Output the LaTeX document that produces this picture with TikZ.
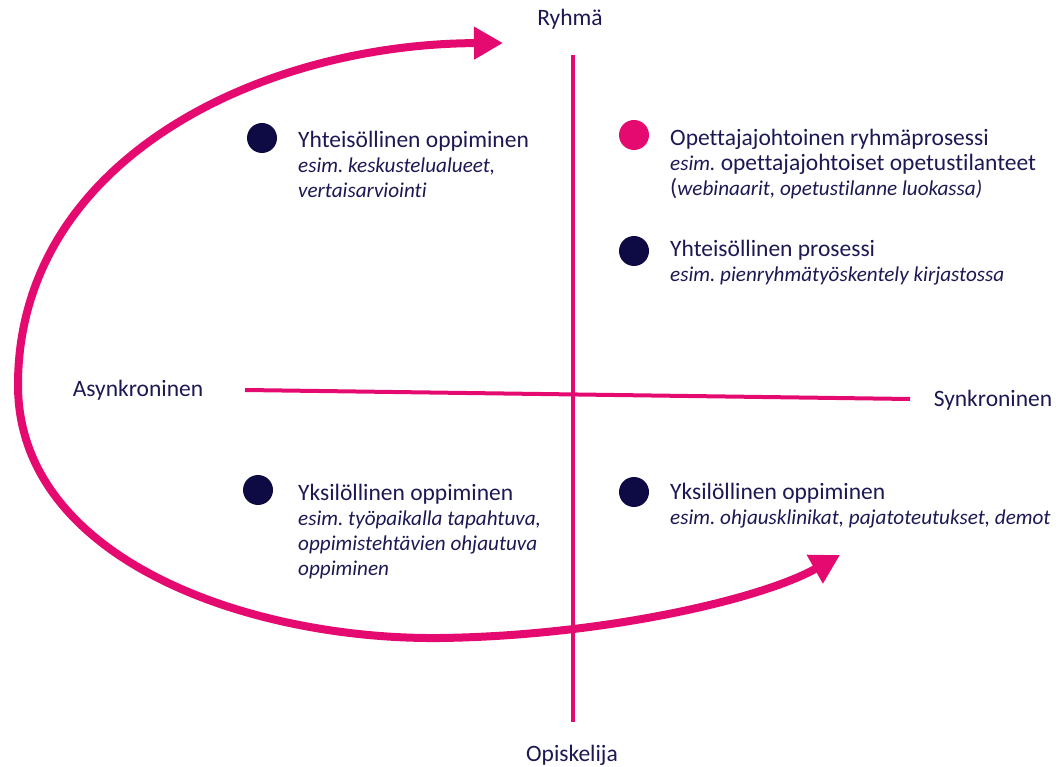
\documentclass[tikz,border=0pt]{standalone}
\usepackage{fontspec}
\setmainfont{Carlito}[Ligatures=NoCommon,ItalicFeatures={Scale=0.9}]
\usetikzlibrary{arrows.meta,positioning}
\definecolor{kpink}{RGB}{228,10,112}
\definecolor{knavy}{RGB}{28,24,84}
\definecolor{kdot}{RGB}{14,11,68}
\tikzset{axisline/.style={kpink,line width=4pt},
  axislabel/.style={text=knavy,font=\fontsize{23.5}{26}\selectfont,inner sep=0pt},
  itemdot/.style={circle,fill=kdot,minimum size=30pt,inner sep=0pt},
  itemtext/.style={text=knavy,font=\fontsize{23.5}{25}\selectfont,align=left,inner sep=0pt,anchor=base west},
  cyclearrow/.style={kpink,line width=8pt,{Triangle[length=29pt,width=31pt]}-{Triangle[length=29pt,width=31pt]}}}
\frenchspacing

\begin{document}
\begin{tikzpicture}[x=1pt,y=-1pt]
    \useasboundingbox (0,0) rectangle (1061,767);
    % akselit
    \coordinate (ylos) at (573,55);
    \coordinate (alas) at (573,722);
    \coordinate (vasen) at (245,390);
    \coordinate (oikea) at (910,399);
    \draw[axisline] (ylos) -- (alas);
    \draw[axisline] (vasen) -- (oikea);
    \node[axislabel] (ryhma) at (570,19) {Ryhmä};
    \node[axislabel] (opiskelija) at (572,755) {Opiskelija};
    \node[axislabel] (asynk) at (138,390) {Asynkroninen};
    \node[axislabel] (synk) at (993,400) {Synkroninen};
    % kaari
    \coordinate (kaarialku) at (503,43);
    \coordinate (kaariloppu) at (840,555);
    \draw[cyclearrow] (kaarialku) .. controls (260,44) and (18,160) .. (18,385)
        .. controls (18,560) and (250,640) .. (440,638)
        .. controls (600,636) and (760,600) .. (kaariloppu);
    % neljannekset (ankkuri = viimeisen rivin pohjaviiva)
    \node[itemdot] (p1) at (262,138) {};
    \node[itemtext] (t1) at (298,198) {Yhteisöllinen oppiminen\\\textit{esim. keskustelualueet,}\\\textit{vertaisarviointi}};
    \node[itemdot,fill=kpink] (p2) at (634,135) {};
    \node[itemtext] (t2) at (670,196) {Opettajajohtoinen ryhmäprosessi\\\textit{esim.} opettajajohtoiset opetustilanteet\\(\textit{webinaarit, opetustilanne luokassa)}};
    \node[itemdot] (p3) at (634,251) {};
    \node[itemtext] (t3) at (670,282) {Yhteisöllinen prosessi\\\textit{esim. pienryhmätyöskentely kirjastossa}};
    \node[itemdot] (p4) at (258,490) {};
    \node[itemtext] (t4) at (298,575) {Yksilöllinen oppiminen\\\textit{esim. työpaikalla tapahtuva,}\\\textit{oppimistehtävien ohjautuva}\\\textit{oppiminen}};
    \node[itemdot] (p5) at (634,492) {};
    \node[itemtext] (t5) at (670,524) {Yksilöllinen oppiminen\\\textit{esim. ohjausklinikat, pajatoteutukset, demot}};
\end{tikzpicture}
\end{document}
